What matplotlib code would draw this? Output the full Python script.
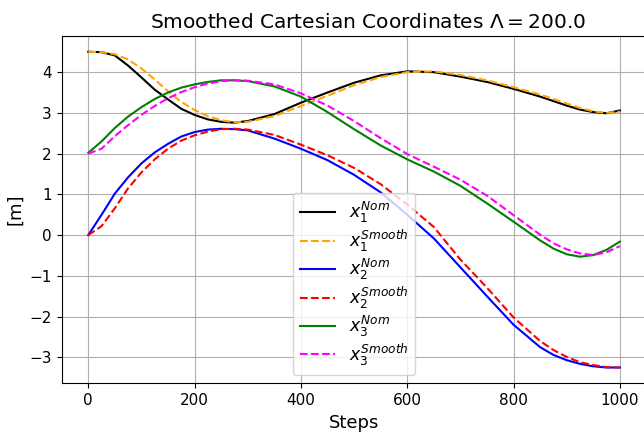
import matplotlib
matplotlib.use("Agg")
import matplotlib.pyplot as plt

steps = [0, 25, 50, 75, 100, 125, 150, 175, 200, 225, 250, 275, 300, 350, 400,
         450, 500, 550, 600, 650, 700, 750, 800, 850, 875, 900, 925, 950, 975, 1000]

x1_nom = [4.50, 4.49, 4.41, 4.16, 3.87, 3.57, 3.33, 3.10, 2.95, 2.84, 2.78, 2.76, 2.80, 2.97, 3.25,
          3.50, 3.74, 3.92, 4.02, 4.00, 3.89, 3.76, 3.59, 3.40, 3.29, 3.18, 3.08, 3.02, 2.99, 3.06]
x1_smooth = [4.50, 4.49, 4.44, 4.31, 4.09, 3.82, 3.53, 3.27, 3.07, 2.92, 2.82, 2.77, 2.78, 2.92, 3.17,
             3.42, 3.68, 3.88, 4.00, 4.02, 3.93, 3.80, 3.63, 3.45, 3.34, 3.23, 3.12, 3.04, 3.00, 3.03]
x2_nom = [0.00, 0.50, 1.02, 1.42, 1.76, 2.03, 2.24, 2.42, 2.53, 2.59, 2.61, 2.60, 2.57, 2.37, 2.12,
          1.84, 1.48, 1.05, 0.50, -0.08, -0.79, -1.50, -2.20, -2.75, -2.94, -3.07, -3.16, -3.22, -3.25, -3.25]
x2_smooth = [0.00, 0.22, 0.66, 1.15, 1.54, 1.86, 2.12, 2.32, 2.45, 2.54, 2.60, 2.61, 2.59, 2.46, 2.22,
             1.96, 1.65, 1.25, 0.75, 0.20, -0.60, -1.29, -2.02, -2.60, -2.82, -2.99, -3.12, -3.19, -3.24, -3.25]
x3_nom = [2.02, 2.30, 2.63, 2.91, 3.14, 3.34, 3.50, 3.62, 3.70, 3.76, 3.80, 3.80, 3.78, 3.65, 3.40,
          3.02, 2.60, 2.20, 1.86, 1.56, 1.21, 0.78, 0.33, -0.13, -0.33, -0.47, -0.53, -0.49, -0.36, -0.16]
x3_smooth = [2.00, 2.12, 2.43, 2.70, 2.95, 3.17, 3.36, 3.51, 3.63, 3.72, 3.78, 3.80, 3.79, 3.70, 3.48,
             3.18, 2.80, 2.38, 1.99, 1.68, 1.36, 0.97, 0.49, 0.01, -0.20, -0.35, -0.45, -0.49, -0.42, -0.27]

series = [
    (x1_nom, "black", "-", r"$x_1^{Nom}$"),
    (x1_smooth, "orange", "--", r"$x_1^{Smooth}$"),
    (x2_nom, "blue", "-", r"$x_2^{Nom}$"),
    (x2_smooth, "red", "--", r"$x_2^{Smooth}$"),
    (x3_nom, "green", "-", r"$x_3^{Nom}$"),
    (x3_smooth, "magenta", "--", r"$x_3^{Smooth}$"),
]

fig = plt.figure(figsize=(6.44, 4.32), dpi=100)
ax = fig.add_axes([0.0958, 0.1127, 0.908, 0.804])
for vals, c, ls, lab in series:
    ax.plot(steps, vals, color=c, linestyle=ls, label=lab, linewidth=1.5)

ax.grid(True)
ax.set_title(r"Smoothed Cartesian Coordinates $\Lambda = 200.0$", fontsize=14.5, x=0.524)
ax.set_xlabel("Steps", fontsize=13)
ax.set_ylabel("[m]", fontsize=13)
ax.tick_params(labelsize=11)
ax.legend(loc="lower center", fontsize=12.5, labelspacing=0.16)
fig.savefig("out.png", dpi=100)
